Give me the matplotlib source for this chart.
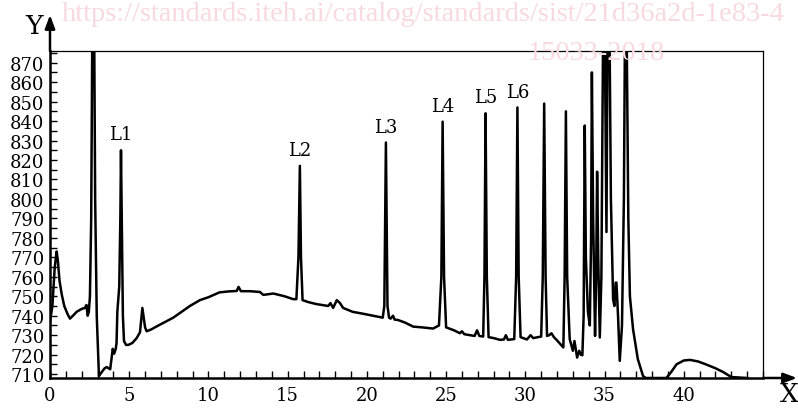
import matplotlib
matplotlib.use("Agg")
from matplotlib import pyplot as plt
import matplotlib.ticker as ticker
import numpy as np

# trace of the curve (X, Y)
x_vals = [0.0, 0.15, 0.3, 0.42, 0.5, 0.6, 0.74, 0.9, 1.1, 1.26, 1.45, 1.68, 2.0, 2.2, 2.3, 2.38,
          2.45, 2.52, 2.6, 2.68, 2.78, 2.85, 2.95, 3.09, 3.26, 3.45, 3.58, 3.8, 3.96, 4.05, 4.15,
          4.2, 4.25, 4.37, 4.44, 4.48, 4.53, 4.6, 4.67, 4.8, 4.94, 5.2, 5.47, 5.68, 5.78, 5.83,
          5.9, 6.0, 6.1, 6.4, 6.73, 7.2, 7.78, 8.3, 8.83, 9.46, 10.0, 10.7, 11.3, 11.78, 11.9,
          12.05, 12.6, 13.25, 13.46, 14.1, 14.8, 15.35, 15.55, 15.68, 15.77, 15.84, 15.94, 16.3,
          16.8, 17.56, 17.7, 17.87, 18.1, 18.3, 18.5, 19.1, 19.77, 20.4, 21.0, 21.1, 21.2, 21.3,
          21.4, 21.5, 21.65, 21.75, 21.96, 22.4, 22.92, 23.5, 24.18, 24.55, 24.7, 24.78, 24.87,
          25.0, 25.5, 25.87, 26.0, 26.15, 26.8, 26.95, 27.1, 27.34, 27.42, 27.49, 27.57, 27.68,
          28.0, 28.4, 28.65, 28.77, 28.9, 29.3, 29.42, 29.5, 29.58, 29.7, 30.1, 30.33, 30.5,
          30.7, 31.0, 31.1, 31.19, 31.28, 31.37, 31.5, 31.65, 31.8, 31.97, 32.2, 32.4, 32.48,
          32.56, 32.64, 32.8, 33.0, 33.1, 33.27, 33.4, 33.5, 33.6, 33.68, 33.75, 33.82, 33.95,
          34.07, 34.15, 34.2, 34.28, 34.4, 34.47, 34.53, 34.6, 34.7, 34.8, 34.92, 35.0, 35.12,
          35.2, 35.3, 35.4, 35.54, 35.62, 35.7, 35.75, 35.85, 35.96, 36.1, 36.22, 36.3, 36.38,
          36.5, 36.6, 36.8, 37.1, 37.43, 37.6, 38.9, 39.2, 39.54, 40.0, 40.4, 40.9, 41.4, 42.0,
          42.5, 43.0, 44.0]
y_vals = [737, 745, 765, 773, 768, 758, 751, 745, 741, 738.5, 740, 742, 743.5, 744, 745.5, 740,
          742, 750, 790, 900, 900, 800, 740, 709, 711, 713, 713.6, 712.5, 723, 720.5, 723,
          726, 742, 755, 790, 825, 790, 740, 727, 725, 725, 726, 728.5, 731.5, 740, 744,
          740, 734, 732, 733, 734.5, 736.5, 739, 742, 745, 748, 749.5, 752, 752.5, 752.7, 754.8,
          752.6, 752.6, 752.2, 750.7, 751.4, 750, 748.5, 748.5, 770, 817, 770, 748, 747,
          746, 745, 746.5, 744, 748, 746.5, 744, 742, 741, 740, 739, 745, 829, 745,
          739, 738.5, 740, 738, 737.8, 736.5, 734.4, 734, 733.4, 735, 760, 839.7, 760,
          734, 732.5, 731, 732, 730.5, 729.6, 732.5, 729.6, 729.3, 760, 844, 760, 729,
          728.5, 727.6, 727.8, 730, 727.6, 728, 760, 847, 760, 729, 727.8, 730, 728.5,
          728.8, 729.3, 760, 849, 760, 729.6, 730, 731, 729, 727.6, 725.5, 723.7, 760,
          845, 760, 728, 722, 727, 718.5, 722, 720, 719.7, 740, 837.7, 770, 742,
          735, 780, 865, 790, 729.6, 760, 814, 770, 728.8, 760, 900, 900, 783,
          900, 900, 800, 748.5, 745, 757, 757, 740, 716.8, 735, 800, 900, 900,
          790, 750, 733, 717.7, 709, 708, 708, 711, 715, 717, 717.3, 716.5, 715, 713,
          711, 708.5, 708]

peak_names = ["L1", "L2", "L3", "L4", "L5", "L6"]
peak_x = [4.48, 15.77, 21.2, 24.78, 27.49, 29.5]
peak_y = [825, 817, 829, 839.7, 844, 847]

y_ticks = list(range(710, 871, 10))
x_ticks = list(range(0, 41, 5))

W, H = 798, 410
fig = plt.figure(figsize=(W / 100, H / 100), dpi=100)

# watermark of the source document
wm_font = dict(family="Liberation Serif", color="#f9d9e1", fontsize=20.5)
fig.text(62 / W, 1 - 21 / H, "https://standards.iteh.ai/catalog/standards/sist/21d36a2d-1e83-4",
         **wm_font)
fig.text(528 / W, 1 - 60 / H, "15033-2018", **wm_font)

ax = fig.add_axes([50 / W, 31 / H, 713 / W, 327 / H])
ax.set_facecolor("none")
ax.plot(x_vals, y_vals, color="black", lw=1.8, solid_joinstyle="round")

for name, px, py in zip(peak_names, peak_x, peak_y):
    ax.text(px, py + 3.5, name, ha="center", va="bottom", family="DejaVu Serif", fontsize=13)

ax.set_xlim(0, 45)
ax.set_ylim(708, 876)
ax.set_xticks(x_ticks)
ax.set_yticks(y_ticks)
ax.xaxis.set_minor_locator(ticker.MultipleLocator(1))
ax.yaxis.set_minor_locator(ticker.MultipleLocator(5))
ax.tick_params(which="both", direction="in", length=5, width=1, color="black")
ax.tick_params(axis="x", pad=6, labelsize=13)
ax.tick_params(axis="y", pad=4, labelsize=13)
for lab in ax.get_xticklabels() + ax.get_yticklabels():
    lab.set_family("DejaVu Serif")

ax.spines["left"].set_linewidth(1.8)
ax.spines["bottom"].set_linewidth(1.8)
ax.spines["top"].set_linewidth(0.9)
ax.spines["right"].set_linewidth(0.9)

# axis arrows
arrow = dict(arrowstyle="-|>,head_length=0.8,head_width=0.3", color="black", lw=1.8,
             shrinkA=0, shrinkB=0)
ax.annotate("", xy=(50, H - 16), xytext=(50, H - 52), xycoords="figure pixels",
            textcoords="figure pixels", arrowprops=arrow)
ax.annotate("", xy=(797, 31), xytext=(763, 31), xycoords="figure pixels",
            textcoords="figure pixels", arrowprops=arrow)
fig.text(34 / W, 1 - 26 / H, "Y", ha="center", va="center", family="DejaVu Serif", fontsize=19)
fig.text(789 / W, 15 / H, "X", ha="center", va="center", family="DejaVu Serif", fontsize=19)

fig.savefig("out.png", dpi=100)
